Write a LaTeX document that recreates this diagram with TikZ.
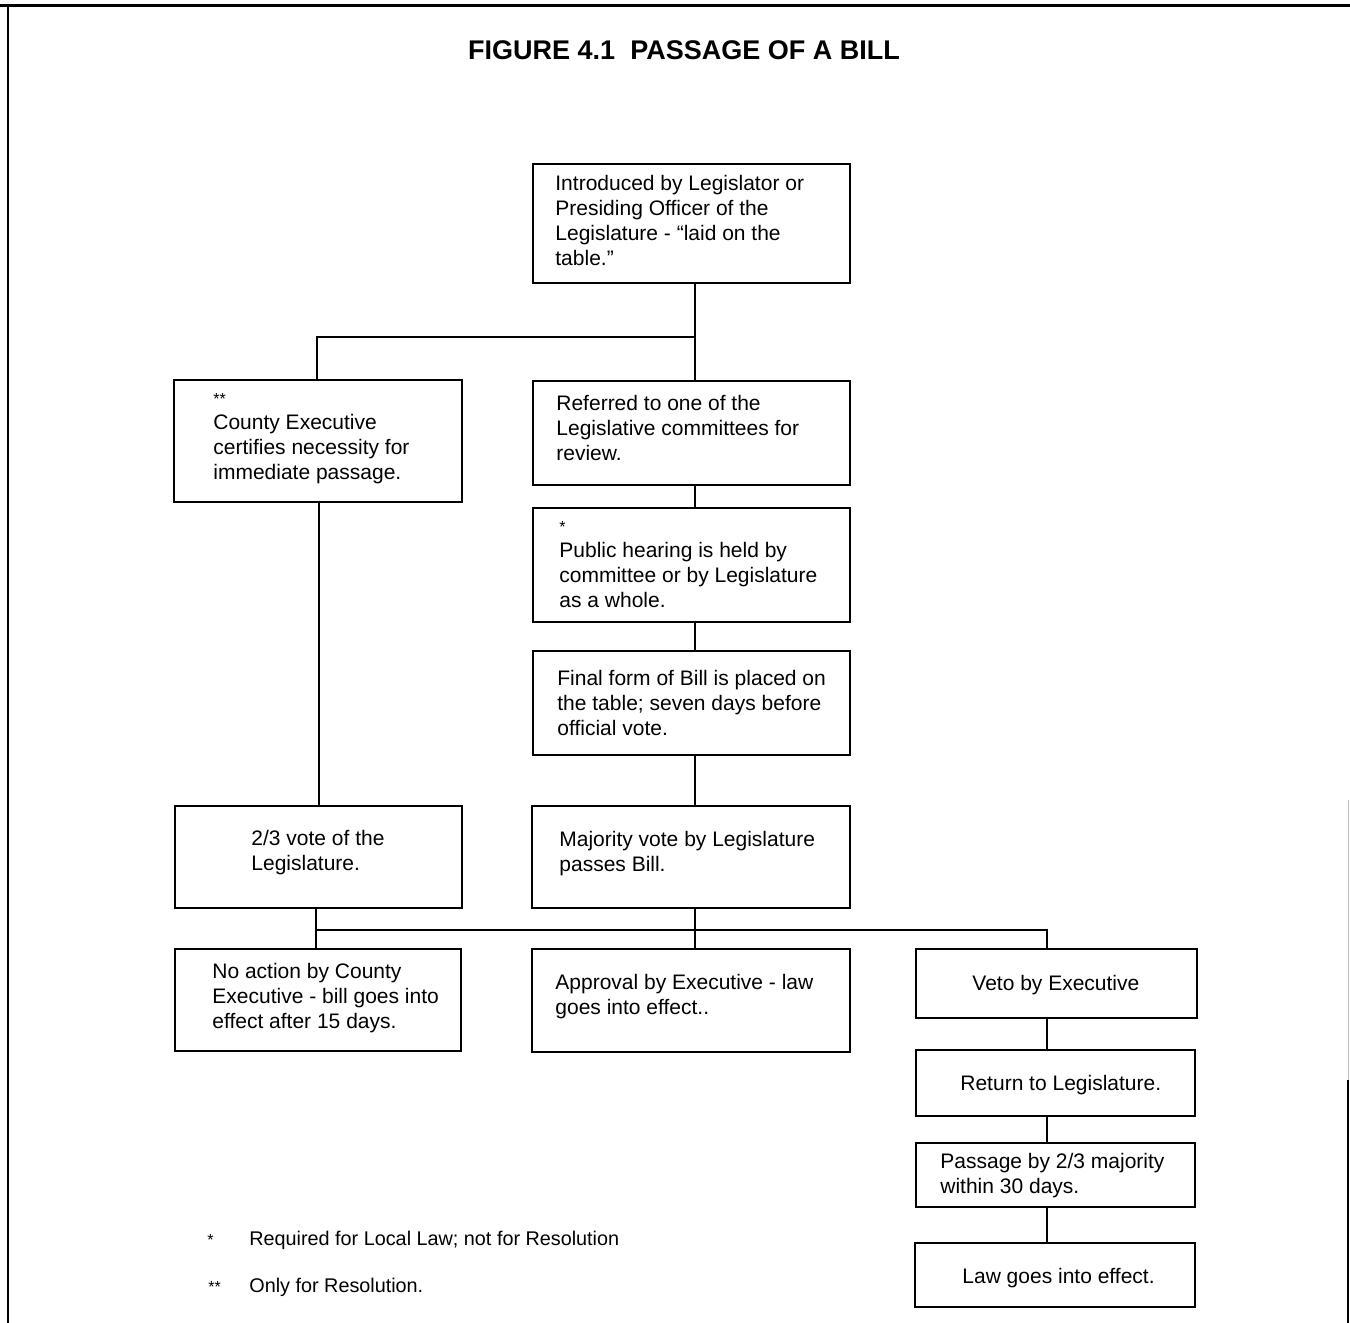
\documentclass[tikz,border=0pt]{standalone}
\usepackage{fontspec}
\setmainfont{Liberation Sans}
\usetikzlibrary{fit}
\begin{document}
\begin{tikzpicture}[x=0.5pt,y=-0.5pt,
  box/.style={draw=black,line width=1.1pt,inner sep=0pt,rectangle},
  txt/.style={anchor=north west,inner sep=0pt,align=left,font=\fontsize{10.5}{12.5}\selectfont},
  fnt/.style={anchor=north west,inner sep=0pt,align=left,font=\fontsize{9.9}{12.5}\selectfont},
  conn/.style={draw=black,line width=0.6pt},
  frame/.style={draw=black}]
\useasboundingbox (0,0) rectangle (1350,1323);
% frame
\draw[frame,line width=1.5pt] (0,5) -- (1350,5);
\draw[frame,line width=1pt] (8,5) -- (8,1323);
\draw[frame,line width=0.4pt,black!25] (1348,800) -- (1348,1080);
\draw[frame,line width=1pt] (1348,1080) -- (1348,1323);
% title
\node[inner sep=0pt,font=\fontsize{13.5}{16}\selectfont\bfseries] (title) at (684,50) {FIGURE 4.1\ \ PASSAGE OF A BILL};
% boxes
\node[box,fit={(533,164) (850,283)}] (b1) {};
\node[box,fit={(174,380) (462,502)}] (b2) {};
\node[box,fit={(533,381) (850,485)}] (b3) {};
\node[box,fit={(533,508) (850,622)}] (b4) {};
\node[box,fit={(533,651) (850,755)}] (b5) {};
\node[box,fit={(175,806) (462,908)}] (b6) {};
\node[box,fit={(532,806) (850,908)}] (b7) {};
\node[box,fit={(175,949) (461,1051)}] (b8) {};
\node[box,fit={(532,949) (850,1052)}] (b9) {};
\node[box,fit={(916,949) (1197,1018)}] (b10) {};
\node[box,fit={(916,1050) (1195,1116)}] (b11) {};
\node[box,fit={(916,1143) (1195,1207)}] (b12) {};
\node[box,fit={(915,1243) (1195,1307)}] (b13) {};
% texts
\node[txt] (t1) at (555,172.5) {\strut Introduced by Legislator or\\Presiding Officer of the\\Legislature - “laid on the\\table.”};
\node[txt] (t2) at (213,386.5) {\strut{\footnotesize **}\\County Executive\\certifies necessity for\\immediate passage.};
\node[txt] (t3) at (556,392.5) {\strut Referred to one of the\\Legislative committees for\\review.};
\node[txt] (t4) at (559,514.5) {\strut{\footnotesize *}\\Public hearing is held by\\committee or by Legislature\\as a whole.};
\node[txt] (t5) at (557,667.5) {\strut Final form of Bill is placed on\\the table; seven days before\\official vote.};
\node[txt] (t6) at (251,827.5) {\strut 2/3 vote of the\\Legislature.};
\node[txt] (t7) at (559,828.5) {\strut Majority vote by Legislature\\passes Bill.};
\node[txt] (t8) at (212,960.5) {\strut No action by County\\Executive - bill goes into\\effect after 15 days.};
\node[txt] (t9) at (555,971.5) {\strut Approval by Executive - law\\goes into effect..};
\node[txt] (t10) at (972,972.5) {\strut Veto by Executive};
\node[txt] (t11) at (960,1072.5) {\strut Return to Legislature.};
\node[txt] (t12) at (940,1150.5) {\strut Passage by 2/3 majority\\within 30 days.};
\node[txt] (t13) at (962,1265.5) {\strut Law goes into effect.};
% footnotes
\node[fnt] (f1s) at (207,1227.5) {\strut\raisebox{0pt}{\footnotesize *}};
\node[fnt] (f1) at (249,1227.5) {\strut Required for Local Law; not for Resolution};
\node[fnt] (f2s) at (208,1274.5) {\strut\raisebox{0pt}{\footnotesize **}};
\node[fnt] (f2) at (249,1274.5) {\strut Only for Resolution.};
% guide coordinates
\coordinate (j0) at (317,337);
\coordinate (j1) at (695,337);
\coordinate (xL) at (319,0);
\coordinate (j2) at (316,930);
\coordinate (j3) at (695,930);
\coordinate (j4) at (1047,930);
% connectors
\draw[conn] (b1.south -| j1) -- (j1) -- (b3.north -| j1);
\draw[conn] (j1) -- (j0) -- (b2.north -| j0);
\draw[conn] (b3.south -| j1) -- (b4.north -| j1);
\draw[conn] (b4.south -| j1) -- (b5.north -| j1);
\draw[conn] (b5.south -| j1) -- (b7.north -| j1);
\draw[conn] (b2.south -| xL) -- (b6.north -| xL);
\draw[conn] (b6.south -| j2) -- (j2) -- (b8.north -| j2);
\draw[conn] (j2) -- (j4) -- (b10.north -| j4);
\draw[conn] (b7.south -| j3) -- (b9.north -| j3);
\draw[conn] (b10.south -| j4) -- (b11.north -| j4);
\draw[conn] (b11.south -| j4) -- (b12.north -| j4);
\draw[conn] (b12.south -| j4) -- (b13.north -| j4);
\end{tikzpicture}
\end{document}
